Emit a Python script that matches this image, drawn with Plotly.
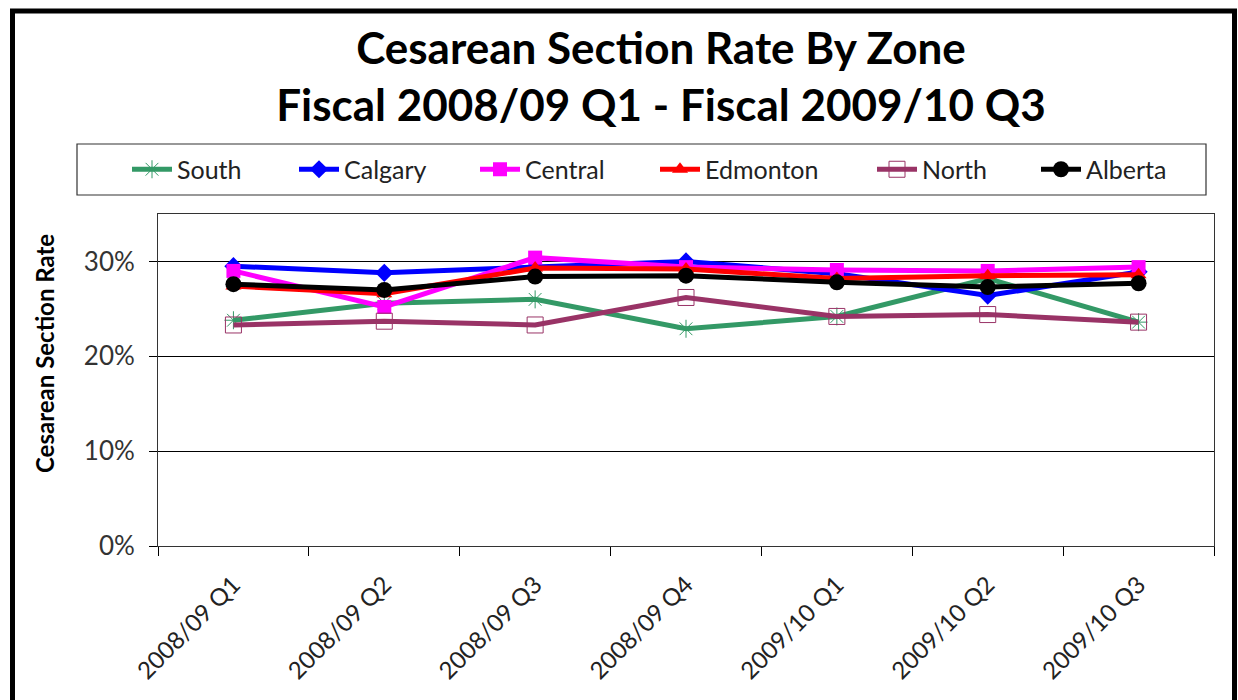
import plotly.graph_objects as go

categories = ["2008/09 Q1", "2008/09 Q2", "2008/09 Q3", "2008/09 Q4",
              "2009/10 Q1", "2009/10 Q2", "2009/10 Q3"]
south = [0.238, 0.256, 0.260, 0.229, 0.242, 0.282, 0.236]
calgary = [0.295, 0.288, 0.294, 0.300, 0.287, 0.264, 0.289]
central = [0.290, 0.252, 0.304, 0.294, 0.291, 0.290, 0.294]
edmonton = [0.274, 0.266, 0.293, 0.292, 0.282, 0.285, 0.286]
north = [0.233, 0.237, 0.233, 0.262, 0.242, 0.244, 0.236]
alberta = [0.276, 0.270, 0.284, 0.285, 0.278, 0.273, 0.277]
y_ticks = [0, 0.1, 0.2, 0.3]

W, H = 1238, 700
L, R, T, B = 158, 1214, 214, 546
FONT = "Lato, Open Sans, sans-serif"


def px_x(x):
    return (x - L) / (R - L)


def px_y(y):
    return (B - y) / (B - T)


series = [
    ("South", south, "#339966", dict(symbol="asterisk-open", size=15,
                                     color="#339966", line=dict(color="#339966", width=1))),
    ("Calgary", calgary, "#0000FF", dict(symbol="diamond", size=14, color="#0000FF")),
    ("Central", central, "#FF00FF", dict(symbol="square", size=14, color="#FF00FF")),
    ("Edmonton", edmonton, "#FF0000", dict(symbol="triangle-up", size=14, color="#FF0000")),
    ("North", north, "#993366", dict(symbol="square-open", size=16, color="#993366",
                                     line=dict(color="#993366", width=1))),
    ("Alberta", alberta, "#000000", dict(symbol="circle", size=16, color="#000000")),
]
legend_starts = [120, 287, 468, 648, 865, 1029]

fig = go.Figure()
legend_layouts = {}
for i, (name, vals, color, marker) in enumerate(series):
    key = "legend" if i == 0 else f"legend{i + 1}"
    fig.add_trace(go.Scatter(x=categories, y=vals, name=name, mode="lines+markers",
                             line=dict(color=color, width=5), marker=marker, legend=key))
    legend_layouts[key] = dict(
        orientation="h", x=px_x(legend_starts[i] + 7), xanchor="left",
        y=px_y(169.5), yanchor="middle", bgcolor="rgba(0,0,0,0)",
        font=dict(family=FONT, size=25, color="#222222"), itemwidth=40)

shapes = [
    # legend box
    dict(type="rect", xref="paper", yref="paper",
         x0=px_x(77), x1=px_x(1206), y0=px_y(195), y1=px_y(144),
         line=dict(color="#333333", width=1.2), fillcolor="rgba(0,0,0,0)"),
    # outer border
    dict(type="rect", xref="paper", yref="paper",
         x0=px_x(12.5), x1=px_x(1234.5), y0=px_y(712), y1=px_y(11),
         line=dict(color="#000000", width=5), fillcolor="rgba(0,0,0,0)"),
]

fig.update_layout(
    width=W, height=H,
    margin=dict(l=L, r=W - R, t=T, b=H - B),
    paper_bgcolor="white", plot_bgcolor="white",
    font=dict(family=FONT, color="#222222", size=22),
    title=dict(text="<b>Cesarean Section Rate By Zone<br>Fiscal 2008/09 Q1 - Fiscal 2009/10 Q3</b>",
               x=661 / W, xanchor="center", y=1 - 64 / H, yanchor="middle",
               font=dict(family=FONT, size=44, color="#000000")),
    showlegend=True,
    shapes=shapes,
    annotations=[dict(text="<b>Cesarean Section Rate</b>", xref="paper", yref="paper",
                      x=px_x(44), y=px_y(354), textangle=-90, showarrow=False,
                      xanchor="center", yanchor="middle",
                      font=dict(family=FONT, size=24, color="#000000"))],
    **legend_layouts,
)

fig.update_xaxes(type="category", range=[-0.5, len(categories) - 0.5], autorange=False,
                 tickson="boundaries", ticks="outside", ticklen=9,
                 tickcolor="#000000", showline=True, linecolor="#333333", linewidth=1,
                 mirror=True, showgrid=False, tickangle=-45, ticklabelstandoff=14,
                 tickfont=dict(family=FONT, size=24, color="#222222"))
fig.update_yaxes(range=[0, 0.35], tickvals=y_ticks, tickformat=".0%", ticks="outside",
                 ticklen=8, tickcolor="#000000", showline=True, linecolor="#333333",
                 linewidth=1, mirror=True, showgrid=True, gridcolor="#000000", gridwidth=1,
                 zeroline=False, ticklabelstandoff=9,
                 tickfont=dict(family=FONT, size=26, color="#333333"))

fig.write_html("out.html", config={"displayModeBar": False},
               post_script="document.body.style.margin='0';document.body.style.padding='0';")
